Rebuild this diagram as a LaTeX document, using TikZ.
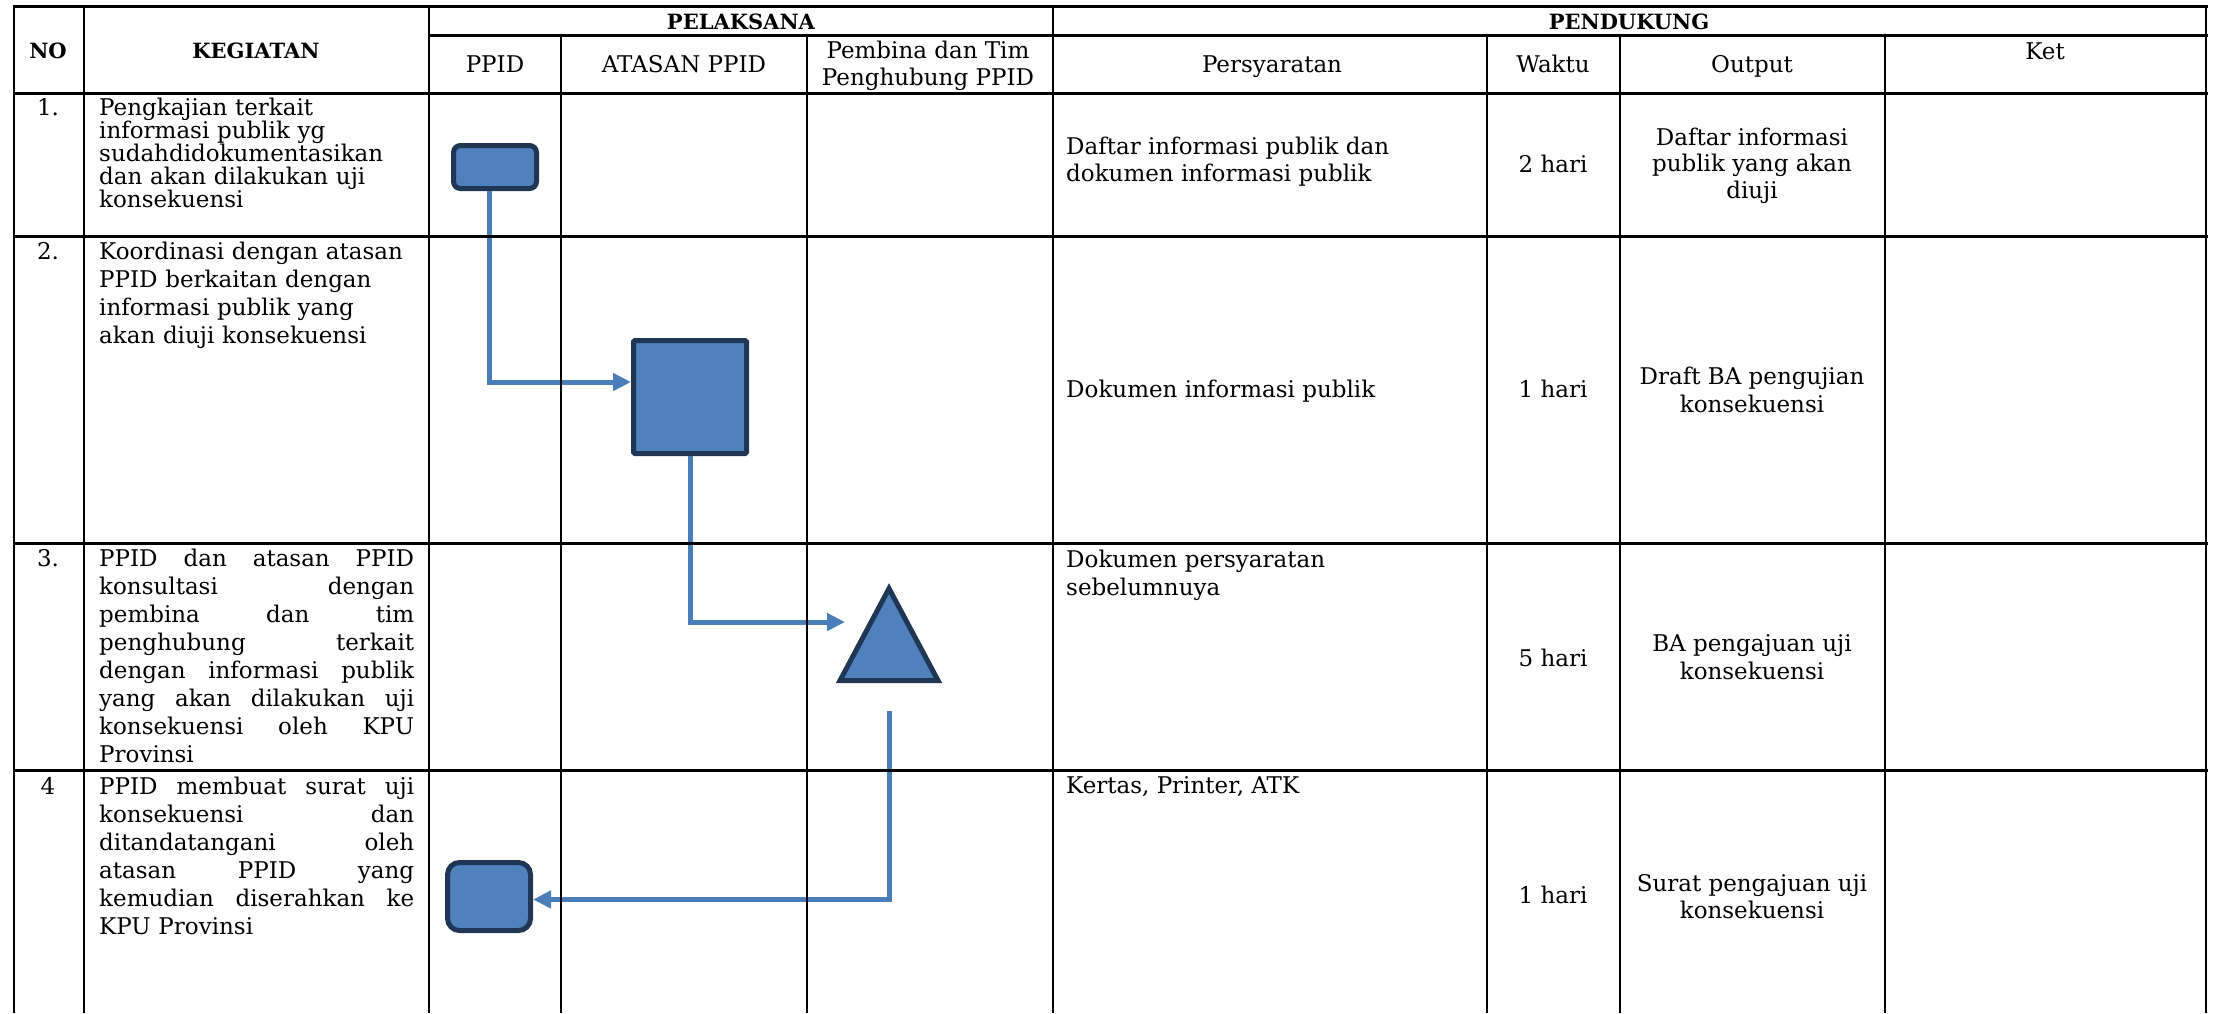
\documentclass[tikz,border=0pt]{standalone}
\usepackage{fontspec}
\setmainfont{DejaVu Serif}
\usetikzlibrary{arrows.meta,calc}
\definecolor{fillblue}{HTML}{4F81BD}
\definecolor{navy}{HTML}{1F3654}
\definecolor{connblue}{HTML}{4A7EBB}
\newcommand\jl[1]{\leavevmode\hbox to 315pt{#1}}
\begin{document}
\begin{tikzpicture}[x=1pt,y=-1pt,
  hrule/.style={line width=3pt,black,line cap=rect},
  vrule/.style={line width=2.2pt,black},
  txt/.style={inner sep=0pt,font=\fontsize{23}{28}\selectfont},
  txtp/.style={inner sep=0pt,font=\fontsize{23}{26.5}\selectfont},
  hdr/.style={inner sep=0pt,font=\fontsize{21}{27}\selectfont\bfseries},
  keg/.style={txt,text width=315pt,align=left,anchor=base west},
  num/.style={txt,anchor=base},
  proc/.style={draw=navy,fill=fillblue,line width=5pt,inner sep=0pt},
  conn/.style={draw=connblue,line width=5pt,-{Triangle[length=18pt,width=17pt]}}]
\useasboundingbox (0,0) rectangle (2215,1013);
\fill[white] (0,0) rectangle (2215,1013);

% ---------- process shapes ----------
\node[proc,rounded corners=7pt,minimum width=83pt,minimum height=43pt] (box1) at (495,167) {};
\node[proc,rounded corners=1.5pt,minimum width=113pt,minimum height=113pt] (box2) at (690,397) {};
\node[inner sep=0pt,outer sep=0pt,minimum width=98pt,minimum height=92pt] (tri) at (889,634.5) {};
\filldraw[draw=navy,fill=fillblue,line width=5pt,line join=miter] (tri.north) -- (tri.south east) -- (tri.south west) -- cycle;
\node[proc,rounded corners=12pt,minimum width=83pt,minimum height=68pt] (box4) at (489,896.5) {};

% ---------- connectors ----------
\coordinate (t3) at (845,622);
\coordinate (c4) at (889,711);
\draw[conn] ($(box1.south)+(-6,0)$) |- ($(box2.west)+(0,-15)$);
\draw[conn] (box2.south) |- (t3);
\draw[conn] (c4) |- ($(box4.east)+(0,3)$);

% ---------- table rules ----------
\draw[hrule] (14,6) -- (2206,6);
\draw[hrule] (429,35) -- (2206,35);
\draw[hrule] (14,93) -- (2206,93);
\draw[hrule] (14,236) -- (2206,236);
\draw[hrule] (14,543) -- (2206,543);
\draw[hrule] (14,770) -- (2206,770);
\foreach \x in {14,84,429,1053,2206} \draw[vrule] (\x,6) -- (\x,1013);
\foreach \x in {561,807,1487,1620,1885} \draw[vrule] (\x,35) -- (\x,1013);

% ---------- header ----------
\node[hdr,anchor=base] (hno) at (48,58) {NO};
\node[hdr,anchor=base] (hkeg) at (256,58) {KEGIATAN};
\node[hdr,anchor=base] (hpel) at (741,29) {PELAKSANA};
\node[hdr,anchor=base] (hpen) at (1629,29) {PENDUKUNG};
\node[txt,anchor=base] (hppid) at (495,72) {PPID};
\node[txt,anchor=base] (hatas) at (684,72) {ATASAN PPID};
\node[txt,anchor=base,align=center,font=\fontsize{23}{27}\selectfont] (hpemb) at (928,85) {Pembina dan Tim\\Penghubung PPID};
\node[txt,anchor=base] (hpers) at (1272,72) {Persyaratan};
\node[txt,anchor=base] (hwak) at (1553,72) {Waktu};
\node[txt,anchor=base] (hout) at (1752,72) {Output};
\node[txt,anchor=base] (hket) at (2045,59) {Ket};

% ---------- row numbers ----------
\node[num] (n1) at (48,115) {1.};
\node[num] (n2) at (48,259) {2.};
\node[num] (n3) at (48,566) {3.};
\node[num] (n4) at (48,794) {4};

% ---------- kegiatan ----------
\node[keg,font=\fontsize{23}{23}\selectfont] (k1) at (99,115)
  {Pengkajian terkait\\informasi publik yg\\sudahdidokumentasikan\\dan akan dilakukan uji\\konsekuensi};
\node[keg] (k2) at (99,259)
  {Koordinasi dengan atasan\\PPID berkaitan dengan\\informasi publik yang\\akan diuji konsekuensi};
\node[keg] (k3) at (99,566)
  {\jl{PPID\hfill dan\hfill atasan\hfill PPID}\\
   \jl{konsultasi\hfill dengan}\\
   \jl{pembina\hfill dan\hfill tim}\\
   \jl{penghubung\hfill terkait}\\
   \jl{dengan\hfill informasi\hfill publik}\\
   \jl{yang\hfill akan\hfill dilakukan\hfill uji}\\
   \jl{konsekuensi\hfill oleh\hfill KPU}\\
   Provinsi};
\node[keg] (k4) at (99,794)
  {\jl{PPID\hfill membuat\hfill surat\hfill uji}\\
   \jl{konsekuensi\hfill dan}\\
   \jl{ditandatangani\hfill oleh}\\
   \jl{atasan\hfill PPID\hfill yang}\\
   \jl{kemudian\hfill diserahkan\hfill ke}\\
   KPU Provinsi};

% ---------- persyaratan ----------
\node[txt,anchor=base west,align=left,font=\fontsize{23}{27}\selectfont] (p1) at (1066,181) {Daftar informasi publik dan\\dokumen informasi publik};
\node[txt,anchor=base west] (p2) at (1066,397) {Dokumen informasi publik};
\node[txt,anchor=base west,align=left] (p3) at (1066,595) {Dokumen persyaratan\\sebelumnuya};
\node[txt,anchor=base west] (p4) at (1066,793) {Kertas, Printer, ATK};

% ---------- waktu ----------
\node[txt,anchor=base] (w1) at (1553,172) {2 hari};
\node[txt,anchor=base] (w2) at (1553,397) {1 hari};
\node[txt,anchor=base] (w3) at (1553,666) {5 hari};
\node[txt,anchor=base] (w4) at (1553,903) {1 hari};

% ---------- output ----------
\node[txtp,anchor=base,align=center] (o1) at (1752,198) {Daftar informasi\\publik yang akan\\diuji};
\node[txt,anchor=base,align=center] (o2) at (1752,412) {Draft BA pengujian\\konsekuensi};
\node[txt,anchor=base,align=center] (o3) at (1752,679) {BA pengajuan uji\\konsekuensi};
\node[txtp,anchor=base,align=center] (o4) at (1752,918) {Surat pengajuan uji\\konsekuensi};
\end{tikzpicture}
\end{document}
